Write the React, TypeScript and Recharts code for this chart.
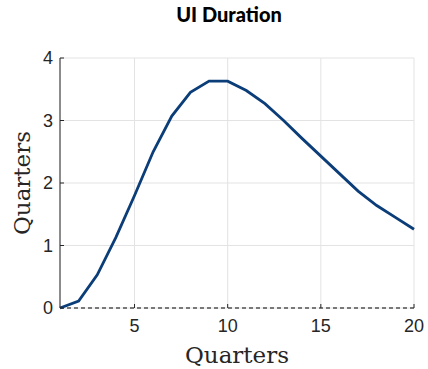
// UI Duration — single line, MATLAB-like styling.
import { CartesianGrid, Line, LineChart, ReferenceLine, XAxis, YAxis } from 'recharts';

const quarters = [1, 2, 3, 4, 5, 6, 7, 8, 9, 10, 11, 12, 13, 14, 15, 16, 17, 18, 19, 20];
const duration = [0, 0.11, 0.53, 1.13, 1.8, 2.5, 3.07, 3.45, 3.63, 3.63, 3.48, 3.27, 3.0, 2.71, 2.43, 2.15, 1.87, 1.64, 1.45, 1.26];
const xTicks = [5, 10, 15, 20];
const yTicks = [0, 1, 2, 3, 4];

const LINE = '#0b3d78';
const AXIS = '#262626';
const GRID = '#e3e3e3';
const SANS = '"Liberation Sans", Arial, sans-serif';

const labelStyle = { fontSize: 23, fill: AXIS, fontFamily: '"DejaVu Serif", serif', textAnchor: 'middle' } as const;

const data = quarters.map((q, i) => ({ q, v: duration[i] }));

const XTick = (p: any) => (
  <text x={p.x} y={p.y} dy="0.71em" textAnchor="middle" fontFamily={SANS} fontSize={18} fill={AXIS}>
    {p.payload.value}
  </text>
);

const YTick = (p: any) => (
  <text x={p.x} y={p.y} dy="0.355em" textAnchor="end" fontFamily={SANS} fontSize={18} fill={AXIS}>
    {p.payload.value}
  </text>
);

export default function App() {
  return (
    <div style={{ position: 'absolute', left: 0, top: 0, width: 428, height: 369, background: '#fff' }}>
      <svg width={428} height={40} style={{ position: 'absolute', left: 0, top: 0 }}>
        <text x={229} y={22} textAnchor="middle" fontFamily="Lato, sans-serif" fontWeight={900} fontSize={20} fill="#000">
          UI Duration
        </text>
      </svg>
      <div style={{ position: 'absolute', left: 0, top: 0 }}>
        <LineChart width={428} height={369} data={data} margin={{ top: 58, right: 14, bottom: 0, left: 0 }}>
          <CartesianGrid stroke={GRID} strokeWidth={1} />
          <XAxis
            dataKey="q"
            type="number"
            domain={[1, 20]}
            ticks={xTicks}
            height={61}
            axisLine={false}
            tickSize={-4}
            tickMargin={15}
            tickLine={{ stroke: AXIS }}
            tick={XTick}
            label={{ value: 'Quarters', position: 'insideBottom', offset: 6, style: labelStyle }}
          />
          <YAxis
            type="number"
            domain={[0, 4]}
            ticks={yTicks}
            width={60}
            axisLine={{ stroke: AXIS }}
            tickSize={-4}
            tickMargin={11}
            tickLine={{ stroke: AXIS }}
            tick={YTick}
            label={{ value: 'Quarters', angle: -90, position: 'insideLeft', offset: 22, style: labelStyle }}
          />
          <ReferenceLine y={0} stroke="#000" strokeDasharray="4 3" strokeWidth={1} />
          <Line
            dataKey="v"
            stroke={LINE}
            strokeWidth={2.8}
            dot={false}
            isAnimationActive={false}
          />
        </LineChart>
      </div>
    </div>
  );
}
